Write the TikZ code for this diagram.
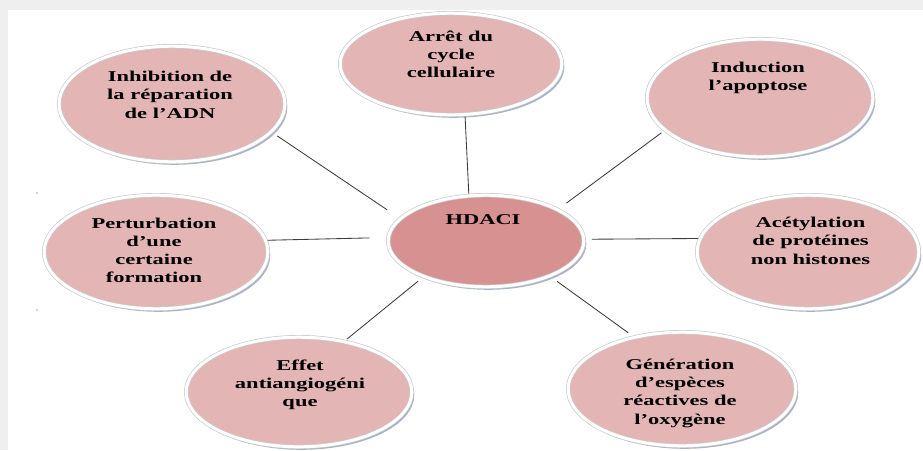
\documentclass[tikz,border=0pt]{standalone}
\usepackage{fontspec}
\setmainfont{Liberation Serif}
\usepackage{graphicx}
\usetikzlibrary{shapes.geometric,shadows}
\definecolor{bgc}{HTML}{EFEFEF}
\definecolor{pinkc}{HTML}{E4B5B5}
\definecolor{hdacic}{HTML}{D79191}
\definecolor{rimc}{HTML}{CACACA}
\definecolor{shadc}{HTML}{8C9AB3}
\definecolor{linec}{HTML}{3C3C3C}
\newcommand{\mylbl}[1]{\scalebox{1.5}[1]{\begin{tabular}[t]{@{}c@{}}#1\end{tabular}}}
\tikzset{
  bub/.style={ellipse, inner sep=0pt, outer sep=2.2pt, fill=pinkc, draw=rimc,
    line width=0.7pt, double=white, double distance=3pt,
    drop shadow={shadow xshift=2.5pt, shadow yshift=-3pt, fill=shadc, opacity=0.75}},
  txt/.style={anchor=base, inner sep=0pt, font=\fontsize{15}{18.2}\selectfont\bfseries, text=black},
  link/.style={draw=linec, line width=0.85pt},
}
\begin{document}
\begin{tikzpicture}[x=1pt,y=-1pt]
\useasboundingbox (0,0) rectangle (923,450);
\fill[bgc] (0,0) rectangle (923,450);
\fill[white] (8,10) rectangle (923,450);
\fill[black!70] (37,193) circle (0.6);
\fill[black!70] (37,310) circle (0.6);

\node[bub, minimum width=221.6pt, minimum height=101.6pt] (arret) at (451,64) {};
\node[bub, minimum width=225.6pt, minimum height=115.6pt] (inh) at (172,104) {};
\node[bub, minimum width=225.6pt, minimum height=117.6pt] (ind) at (760,98) {};
\node[bub, minimum width=223.6pt, minimum height=113.6pt] (pert) at (156,252) {};
\node[bub, fill=hdacic, minimum width=195.6pt, minimum height=91.6pt] (hdaci) at (486,241) {};
\node[bub, minimum width=221.6pt, minimum height=113.6pt] (acet) at (808,252) {};
\node[bub, minimum width=225.6pt, minimum height=109.6pt] (effet) at (299,392) {};
\node[bub, minimum width=227.6pt, minimum height=113.6pt] (gen) at (682,389) {};

\draw[link] (arret.-75.1) -- (hdaci.110.9);
\draw[link, shorten <=5.3pt, shorten >=13.8pt] (inh.-16.1) -- (hdaci.165.9);
\draw[link, shorten <=2.7pt, shorten >=8.8pt] (ind.199.9) -- (hdaci.24.3);
\draw[link, shorten >=17pt] (pert.6.8) -- (hdaci.178.9);
\draw[link, shorten >=6pt] (acet.173.2) -- (hdaci.1.1);
\draw[link, shorten <=1.4pt, shorten >=5pt] (effet.48) -- (hdaci.-150.1);
\draw[link, shorten <=5pt, shorten >=7pt] (gen.133.8) -- (hdaci.-29.9);

\node[txt] (tarret) at (451,41) {\mylbl{Arrêt du\\cycle\\cellulaire}};
\node[txt] (tinh) at (170,81.7) {\mylbl{Inhibition de\\la réparation\\de l’ADN}};
\node[txt] (tind) at (758,72.7) {\mylbl{Induction\\l’apoptose}};
\node[txt] (tpert) at (154,228) {\mylbl{Perturbation\\d’une\\certaine\\formation}};
\node[txt] (thdaci) at (483,224) {\mylbl{HDACI}};
\node[txt] (tacet) at (810.5,227.7) {\mylbl{Acétylation\\de protéines\\non histones}};
\node[txt] (teffet) at (300,370) {\mylbl{Effet\\antiangiogéni\\que}};
\node[txt] (tgen) at (680,369.5) {\mylbl{Génération\\d’espèces\\réactives de\\l’oxygène}};
\end{tikzpicture}
\end{document}
